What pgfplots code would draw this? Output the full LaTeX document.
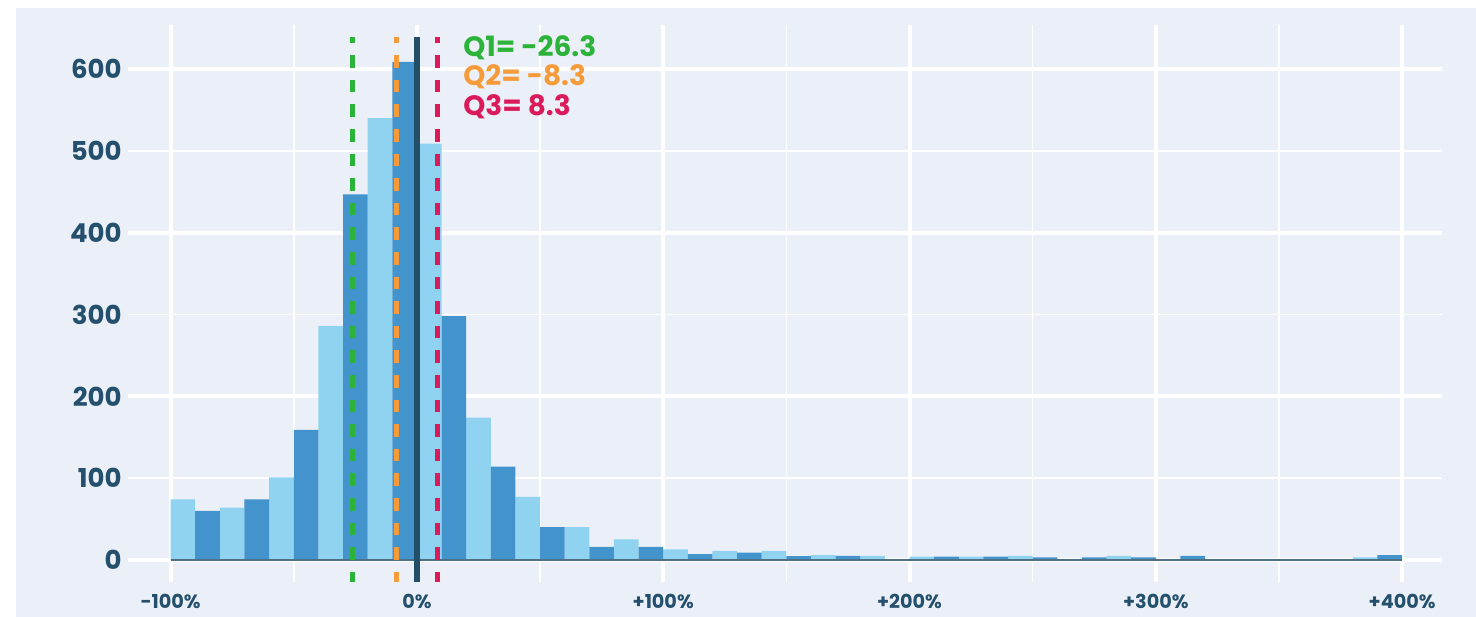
\documentclass[border=0pt]{standalone}
\usepackage{fontspec}
\setmainfont{Poppins}
\usepackage{pgfplots}
\pgfplotsset{compat=1.18}
\definecolor{bgpanel}{HTML}{EBF0F8}
\definecolor{lightbar}{HTML}{90D3F1}
\definecolor{darkbar}{HTML}{4393CD}
\definecolor{qgreen}{HTML}{2BB33A}
\definecolor{qorange}{HTML}{F59B3A}
\definecolor{qpink}{HTML}{DB1A5C}
\definecolor{zeroline}{HTML}{234E68}
\definecolor{baseln}{HTML}{4F6F84}
\definecolor{labelc}{HTML}{25506D}
\begin{document}
\begin{tikzpicture}
\useasboundingbox (-64bp,-17.5bp) rectangle (674bp,291bp);
\fill[bgpanel] (-56bp,-17.5bp) rectangle (674bp,287bp);
\begin{axis}[
  scale only axis,
  width=656.75bp, height=278.5bp,
  xmin=-117.3, xmax=416,
  ymin=-27, ymax=654,
  axis line style={draw=none},
  major tick length=0pt, minor tick length=0pt,
  tick style={draw=none},
  no markers,
  /pgf/number format/assume math mode=true,
  xtick={-100,0,100,200,300,400},
  xticklabels={-100\%,0\%,+100\%,+200\%,+300\%,+400\%},
  minor xtick={-50,50,150,250,350},
  xmajorgrids=true, xminorgrids=true,
  ytick={0,200,400,600},
  ymajorgrids=true,
  major grid style={white, line width=2bp},
  minor grid style={white, line width=0.75bp},
  extra y ticks={100,300,500},
  extra y tick style={grid=major, major grid style={white, line width=0.75bp}},
  xticklabel style={font=\bfseries\fontsize{9.6bp}{9.6bp}\selectfont, text=labelc, anchor=north, inner sep=0pt, yshift=-6bp},
  yticklabel style={font=\bfseries\fontsize{13bp}{13bp}\selectfont, text=labelc, anchor=east, inner sep=0pt, xshift=-3bp},
  clip=false,
]
% light bins
\addplot[ybar, bar width=10, bar shift=0pt, fill=lightbar, draw=none] coordinates {
(-95,74) (-75,64) (-55,101) (-35,286) (-15,540) (5,509) (25,174) (45,77)
(65,40) (85,25) (105,13) (125,11) (145,11) (165,6) (185,5) (205,4)
(225,4) (245,5) (285,5) (385,3)
};
% dark bins
\addplot[ybar, bar width=10, bar shift=0pt, fill=darkbar, draw=none] coordinates {
(-85,60) (-65,74) (-45,159) (-25,447) (-5,609) (15,298) (35,114) (55,40)
(75,16) (95,16) (115,7) (135,9) (155,4.5) (175,5) (215,4) (235,4)
(255,3) (275,3) (295,3) (315,5) (395,6)
};
% baseline
\addplot[baseln, line width=1.1bp] coordinates {(-100,0) (400,0)};
% quartile lines
\addplot[qgreen, line width=2.5bp, dash pattern=on 6.3bp off 6bp, dash phase=3.3bp] coordinates {(-26.3,639) (-26.3,-27)};
\addplot[qorange, line width=2.5bp, dash pattern=on 6.3bp off 6bp, dash phase=3.3bp] coordinates {(-8.3,639) (-8.3,-27)};
\addplot[qpink, line width=2.5bp, dash pattern=on 6.3bp off 6bp, dash phase=3.3bp] coordinates {(8.3,639) (8.3,-27)};
\addplot[zeroline, line width=2.6bp] coordinates {(0,639) (0,-27)};
\node[anchor=base west, inner sep=0pt, text=qgreen, font=\bfseries\fontsize{14bp}{14bp}\selectfont] at (axis cs:18.7,616) {Q1= -26.3};
\node[anchor=base west, inner sep=0pt, text=qorange, font=\bfseries\fontsize{14bp}{14bp}\selectfont] at (axis cs:18.7,579.5) {Q2= -8.3};
\node[anchor=base west, inner sep=0pt, text=qpink, font=\bfseries\fontsize{14bp}{14bp}\selectfont] at (axis cs:18.7,542.8) {Q3= 8.3};
\end{axis}
\end{tikzpicture}
\end{document}
